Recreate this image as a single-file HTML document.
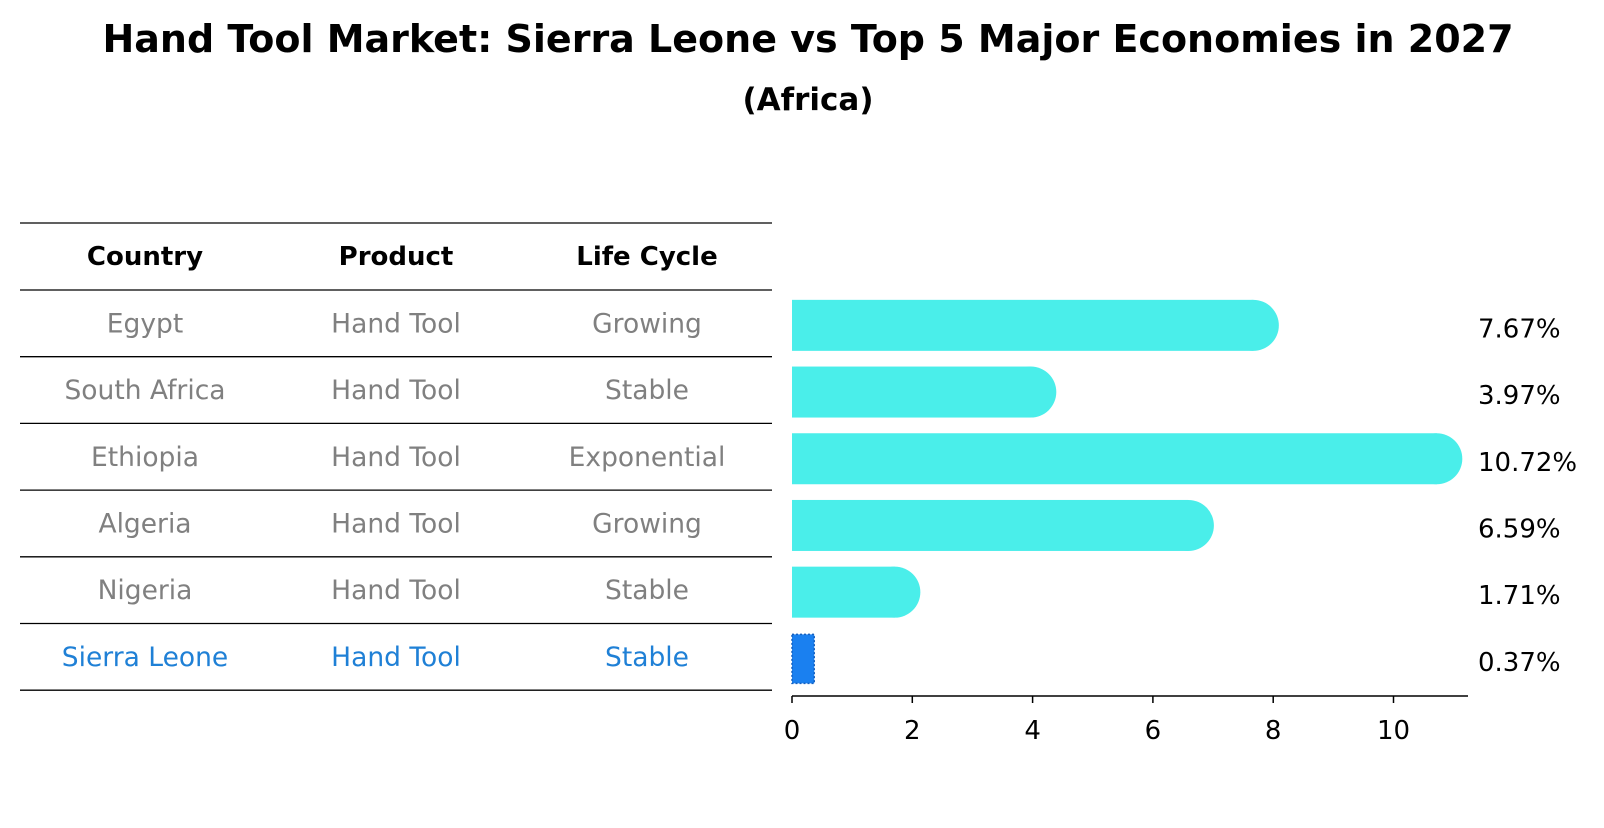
<!DOCTYPE html>
<html><head><meta charset="utf-8"><style>
body{margin:0;background:#fff;}
svg text{font-family:"DejaVu Sans","Liberation Sans",sans-serif;}
</style></head><body>
<svg width="1604" height="823" viewBox="0 0 1604 823" xmlns="http://www.w3.org/2000/svg">
<text x="808" y="52" text-anchor="middle" font-size="38" font-weight="bold">Hand Tool Market: Sierra Leone vs Top 5 Major Economies in 2027</text>
<text x="808" y="110" text-anchor="middle" font-size="31" font-weight="bold">(Africa)</text>
<g id="table"></g>
<g id="bars"></g>
</svg>
<script>
const countries = ["Egypt","South Africa","Ethiopia","Algeria","Nigeria","Sierra Leone"];
const products = ["Hand Tool","Hand Tool","Hand Tool","Hand Tool","Hand Tool","Hand Tool"];
const lifeCycles = ["Growing","Stable","Exponential","Growing","Stable","Stable"];
const values = [7.67,3.97,10.72,6.59,1.71,0.37];
const valueLabels = ["7.67%","3.97%","10.72%","6.59%","1.71%","0.37%"];
const xTicks = [0,2,4,6,8,10];

const NS="http://www.w3.org/2000/svg";
function mk(tag,attrs,parent){const e=document.createElementNS(NS,tag);for(const k in attrs)e.setAttribute(k,attrs[k]);parent.appendChild(e);return e;}
const x0=792, pxPerUnit=60.15;
function xs(v){return x0+v*pxPerUnit;}
const rowTop=290, rowH=66.7;
function rowCenter(i){return rowTop+rowH*(i+0.5);}

const table=document.getElementById('table');
const lineYs=[223];
for(let i=0;i<=countries.length;i++)lineYs.push(rowTop+rowH*i);
lineYs.forEach((y,i)=>{
  const l=mk('line',{x1:20,x2:772,y1:y,y2:y,stroke:'#000','stroke-width':1.3},table);
  
  
});
const colX=[145,396,647];
["Country","Product","Life Cycle"].forEach((h,j)=>{
  const t=mk('text',{x:colX[j],y:265,'text-anchor':'middle','font-size':26,'font-weight':'bold'},table);
  t.textContent=h;
  
  
});
countries.forEach((c,i)=>{
  const color=i===countries.length-1?'#1f80d6':'#808080';
  [c,products[i],lifeCycles[i]].forEach((s,j)=>{
    const t=mk('text',{x:colX[j],y:rowCenter(i)+9,'text-anchor':'middle','font-size':26.5,fill:color},table);
    t.textContent=s;
    
    
  });
});

const bars=document.getElementById('bars');
const bh=51;
values.forEach((v,i)=>{
  const cy=rowCenter(i)+2;
  if(i===values.length-1){
    const r=mk('rect',{x:x0,y:cy-bh/2+1,width:xs(v)-x0,height:bh-2,fill:'#1a80f0',stroke:'#1560c0','stroke-width':1.5,'stroke-dasharray':'2,2'},bars);
    
    
  } else {
    const g=mk('g',{},bars);
    
    
    mk('rect',{x:x0,y:cy-bh/2,width:xs(v)-x0,height:bh,fill:'#4aeeea'},g);
    mk('circle',{cx:xs(v),cy:cy,r:bh/2,fill:'#4aeeea'},g);
  }
  const t=mk('text',{x:1478,y:cy+12,'font-size':26,fill:'#000'},bars);
  t.textContent=valueLabels[i];
  
  
});
const ax=mk('line',{x1:x0,x2:1468,y1:696,y2:696,stroke:'#000','stroke-width':1.5},bars);


xTicks.forEach(v=>{
  const tk=mk('line',{x1:xs(v),x2:xs(v),y1:696,y2:703,stroke:'#000','stroke-width':1.5},bars);
  
  
  const t=mk('text',{x:xs(v),y:739,'text-anchor':'middle','font-size':26},bars);
  t.textContent=v;
  
  
});
</script>
</body></html>
